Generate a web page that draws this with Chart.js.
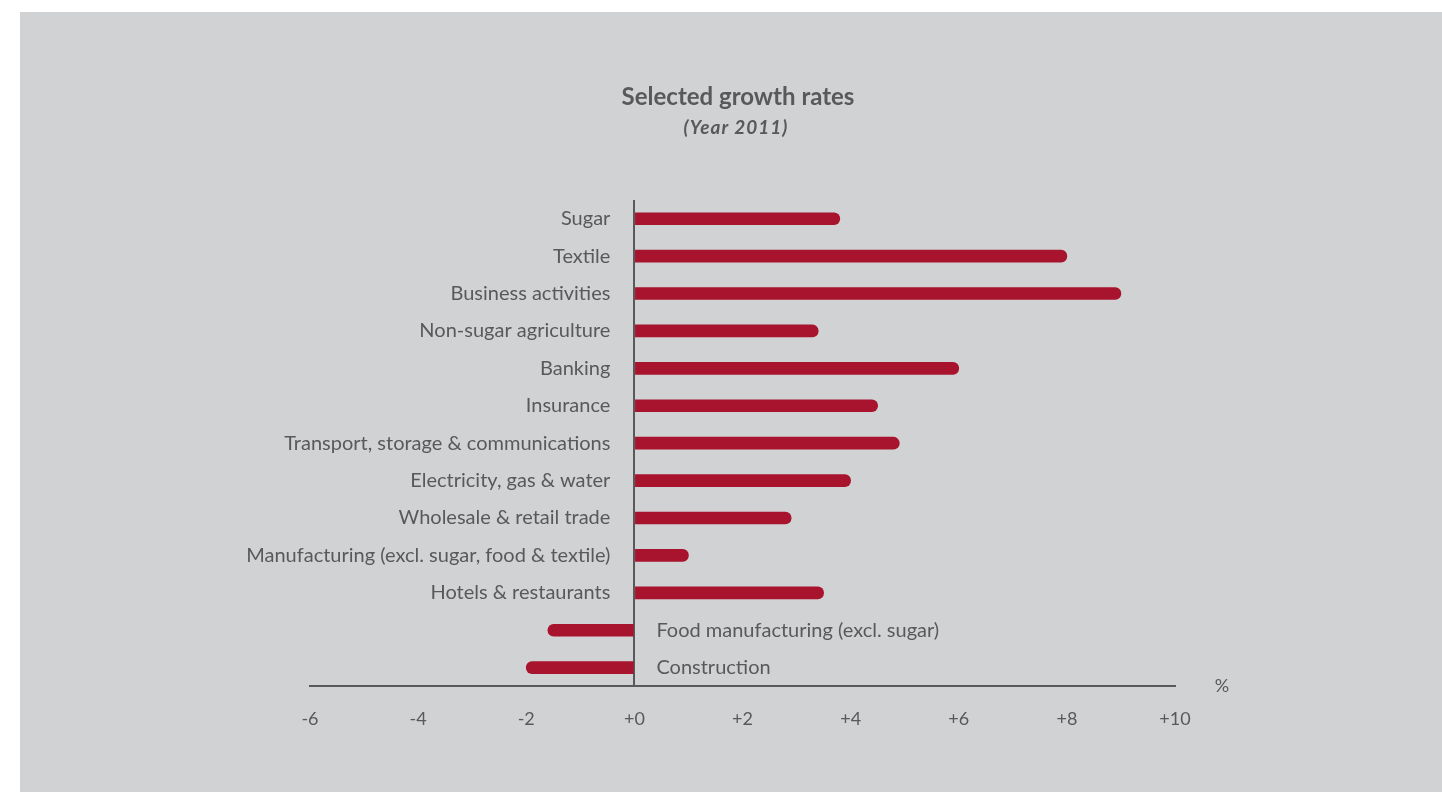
<!DOCTYPE html>
<html>
<head>
<meta charset="utf-8">
<script src="https://cdn.jsdelivr.net/npm/chart.js@4.4.1/dist/chart.umd.min.js"></script>
<style>
  html, body { margin: 0; padding: 0; background: #fff; }
  #wrap { width: 1442px; height: 792px; }
</style>
</head>
<body>
<div id="wrap"><canvas id="myChart" width="1442" height="792"></canvas></div>
<script>
const sectors = [
    "Sugar", "Textile", "Business activities", "Non-sugar agriculture", "Banking",
    "Insurance", "Transport, storage & communications", "Electricity, gas & water",
    "Wholesale & retail trade", "Manufacturing (excl. sugar, food & textile)",
    "Hotels & restaurants", "Food manufacturing (excl. sugar)", "Construction"
];
const growth = [3.8, 8.0, 9.0, 3.4, 6.0, 4.5, 4.9, 4.0, 2.9, 1.0, 3.5, -1.6, -2.0];
const tickValues = [-6, -4, -2, 0, 2, 4, 6, 8, 10];

const textColor = "#58595b";
const barColor = "#a8132d";
const panelColor = "#d1d2d4";
const fontName = "Lato, 'Open Sans', sans-serif";

// background panel, titles, category labels and % sign
const decorPlugin = {
    id: "decor",
    beforeDraw(chart) {
        const ctx = chart.ctx;
        ctx.save();
        ctx.fillStyle = "#ffffff";
        ctx.fillRect(0, 0, chart.width, chart.height);
        ctx.fillStyle = panelColor;
        ctx.fillRect(20, 12, chart.width - 20, chart.height - 12);
        ctx.restore();
    },
    afterDraw(chart) {
        const ctx = chart.ctx;
        const x = chart.scales.x, y = chart.scales.y;
        const zero = x.getPixelForValue(0);
        ctx.save();
        ctx.fillStyle = textColor;
        ctx.textBaseline = "middle";
        ctx.textAlign = "center";
        ctx.font = "bold 24px " + fontName;
        ctx.fillText("Selected growth rates", 738, 97);
        ctx.font = "italic bold 19px " + fontName;
        ctx.letterSpacing = "1px";
        ctx.fillText("(Year 2011)", 736, 128);
        ctx.letterSpacing = "0px";

        ctx.font = "20px " + fontName;
        sectors.forEach(function (name, i) {
            const py = y.getPixelForValue(i);
            if (growth[i] >= 0) {
                ctx.textAlign = "right";
                ctx.fillText(name, zero - 24, py);
            } else {
                ctx.textAlign = "left";
                ctx.fillText(name, zero + 22, py);
            }
        });
        ctx.font = "18px " + fontName;
        ctx.textAlign = "center";
        ctx.fillText("%", 1222, 686);
        ctx.restore();
    }
};

const data = {
    labels: sectors,
    datasets: [{
        data: growth,
        backgroundColor: barColor,
        borderWidth: 0,
        borderRadius: 6,
        borderSkipped: "start",
        barThickness: 12
    }]
};

const config = {
    type: "bar",
    data: data,
    plugins: [decorPlugin],
    options: {
        indexAxis: "y",
        responsive: false,
        animation: false,
        layout: {
            padding: { left: 310, right: 267, top: 200, bottom: 40 }
        },
        plugins: {
            legend: { display: false },
            tooltip: { enabled: false },
            title: { display: false }
        },
        scales: {
            x: {
                min: -6,
                max: 10,
                afterBuildTicks(scale) {
                    scale.ticks = tickValues.map(v => ({ value: v }));
                },
                grid: {
                    drawTicks: false,
                    color: ctx => (ctx.tick && ctx.tick.value === 0) ? textColor : "rgba(0,0,0,0)",
                    lineWidth: 2
                },
                border: { display: true, color: textColor, width: 2 },
                ticks: {
                    padding: 22,
                    color: textColor,
                    font: { family: fontName, size: 18 },
                    callback: v => (v >= 0 ? "+" + v : String(v))
                }
            },
            y: {
                display: false,
                offset: true,
                grid: { display: false }
            }
        }
    }
};

const myChart = new Chart(document.getElementById("myChart"), config);
</script>
</body>
</html>
